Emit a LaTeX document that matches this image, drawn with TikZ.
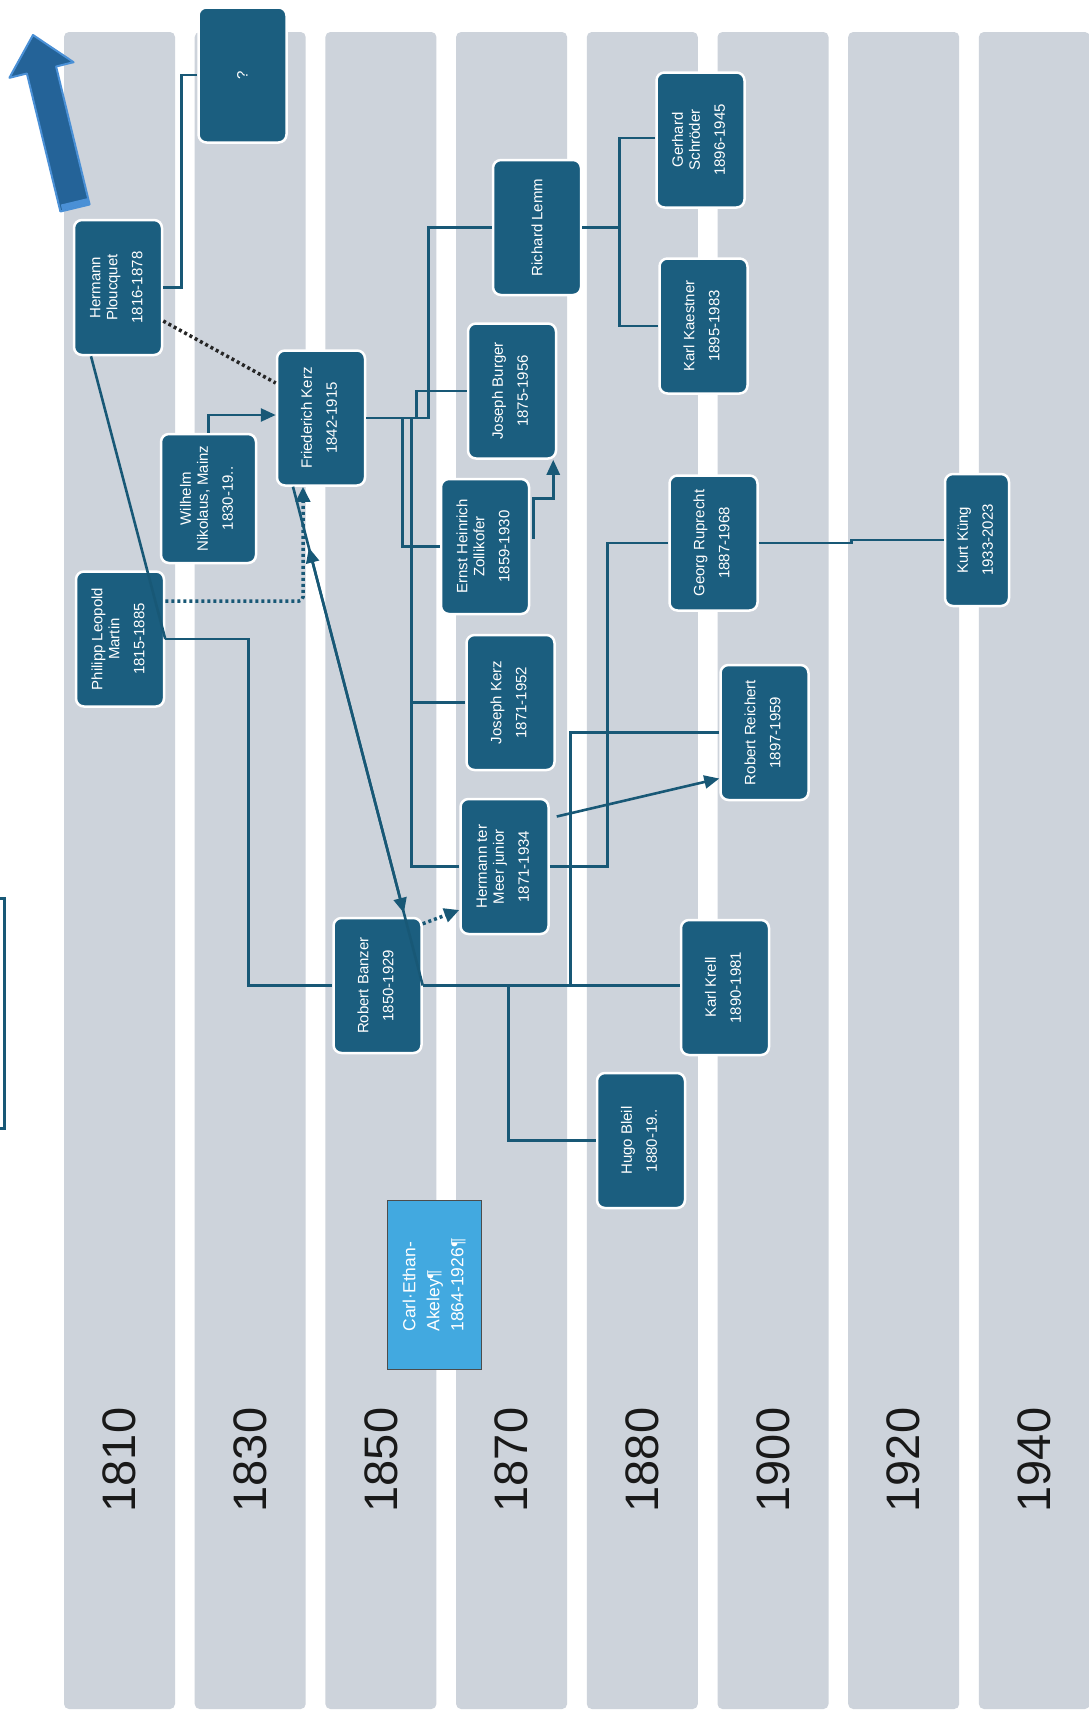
\documentclass[tikz,border=0pt]{standalone}
\usepackage{fontspec}
\setmainfont{Liberation Sans}
\usepackage{graphicx}
\usepackage{tikz}
\usetikzlibrary{arrows.meta,calc}

\definecolor{boxblue}{RGB}{27,94,127}
\definecolor{linkblue}{RGB}{24,88,118}
\definecolor{colgray}{RGB}{205,211,219}
\definecolor{skyblue}{RGB}{66,169,224}
\definecolor{arrowblue}{RGB}{36,99,152}
\definecolor{arrowedge}{RGB}{74,144,214}

\newcommand{\vname}[2]{\rotatebox{90}{\begin{tabular}{@{}c@{}}#1\\[8pt]#2\end{tabular}}}

\begin{document}
\begin{tikzpicture}[x=1pt, y=-1pt, every node/.style={font=\fontsize{15}{17}\selectfont},
  person/.style={rectangle, draw=white, line width=2.5pt, rounded corners=8pt, fill=boxblue,
    text=white, minimum width=88pt, minimum height=135pt, inner sep=2pt},
  note/.style={rectangle, draw=black!70, line width=1pt, fill=skyblue, text=white,
    minimum width=94pt, minimum height=169pt, font=\fontsize{17.5}{24}\selectfont},
  conn/.style={draw=linkblue, line width=2.6pt},
  arr/.style={conn, -{Triangle[length=15pt,width=13pt]}},
  dotline/.style={draw=black!85, line width=3.5pt, dash pattern=on 3pt off 3pt},
  dotarr/.style={draw=linkblue, line width=3.5pt, dash pattern=on 3pt off 3pt,
    -{Triangle[length=15pt,width=14pt]}}]
  \useasboundingbox (0,0) rectangle (1088,1711);
  \fill[white] (0,0) rectangle (1088,1711);

  % decade columns
  \foreach \yr [count=\i from 0] in {1810,1830,1850,1870,1880,1900,1920,1940} {
    \fill[colgray, rounded corners=5pt] ({64+130.7*\i},32) rectangle ++(111,1677);
    \node[font=\fontsize{47}{50}\selectfont, rotate=90, text=black!90] (yr\i) at ({119.5+130.7*\i},1460) {\yr};
  }

  % big arrow and edge mark
  \filldraw[fill=arrowblue, draw=arrowedge, line width=2pt, line join=round]
    (89.6,204.5) -- (56.1,66.5) -- (73.6,62.2) -- (33,35) -- (9.4,77.8) -- (26.9,73.5) -- (60.4,211.5) -- cycle;
  \draw[arrowedge, line width=6pt] (61.5,207.5) -- (88.5,201);
  \draw[linkblue, line width=3pt] (0,898) -- (4,898) -- (4,1128) -- (0,1128);

  \node[person] (q) at (242.5,75) {\rotatebox{90}{?}};
  \node[person] (hp) at (118,287.5) {\vname{Hermann\\Ploucquet}{1816-1878}};
  \node[person, minimum width=95pt, minimum height=129pt] (wn) at (208.5,498.5) {\vname{Wilhelm\\Nikolaus, Mainz}{1830-19..}};
  \node[person] (plm) at (120,639) {\vname{Philipp Leopold\\Martin}{1815-1885}};
  \node[person] (fk) at (321,418) {\vname{Friederich Kerz}{1842-1915}};
  \node[person] (rl) at (537,227.5) {\rotatebox{90}{Richard Lemm}};
  \node[person] (jb) at (512,391) {\vname{Joseph Burger}{1875-1956}};
  \node[person] (ez) at (485,546.5) {\vname{Ernst Heinrich\\Zollikofer}{1859-1930}};
  \node[person] (jk) at (510.5,702.5) {\vname{Joseph Kerz}{1871-1952}};
  \node[person] (htm) at (504.5,866.5) {\vname{Hermann ter\\Meer junior}{1871-1934}};
  \node[person] (gs) at (700.5,140) {\vname{Gerhard\\Schröder}{1896-1945}};
  \node[person] (kae) at (703.5,326) {\vname{Karl Kaestner}{1895-1983}};
  \node[person] (gr) at (713.5,543) {\vname{Georg Ruprecht}{1887-1968}};
  \node[person] (rr) at (764.5,732.5) {\vname{Robert Reichert}{1897-1959}};
  \node[person, minimum width=64pt, minimum height=132pt] (ku) at (977,540) {\vname{Kurt Küng}{1933-2023}};
  \node[person] (rb) at (377.5,985.5) {\vname{Robert Banzer}{1850-1929}};
  \node[person] (kre) at (725,987.5) {\vname{Karl Krell}{1890-1981}};
  \node[person] (hb) at (641,1140.5) {\vname{Hugo Bleil}{1880-19..}};
  \node[note] (cea) at (434.5,1285) {\rotatebox{90}{\begin{tabular}{@{}l@{}}Carl·Ethan-\\Akeley¶\\1864-1926¶\end{tabular}}};

  \draw[conn] (hp.east) -- ++(18,0) |- (q.west);
  \draw[dotline] ([yshift=-33.5pt]hp.east) -- ([yshift=35pt]fk.west);
  \draw[conn] ([xshift=-27pt]hp.south) -- (plm.east);
  \draw[arr] (wn.north) |- ([yshift=3pt]fk.west);
  \draw[conn] (plm.east) -- ++(83,0) |- (rb.west);
  \draw[dotarr, rounded corners=4pt] ([yshift=38pt]plm.east) -| ([xshift=-18pt]fk.south);

  \draw[conn] (fk.east) -- ++(62,0) |- (rl.west);
  \draw[conn] (fk.east) -- ++(50,0) |- (jb.west);
  \draw[conn] (fk.east) -- ++(36,0) |- (ez.west);
  \draw[conn] (fk.east) -- ++(45,0) |- (jk.west);
  \draw[conn] (fk.east) -- ++(45,0) |- (htm.west);
  \draw[arr] ([xshift=3pt,yshift=8pt]ez.east) |- ([xshift=-4pt,yshift=-39pt]jb.south east) -- ([xshift=-4pt]jb.south east);

  \draw[conn] (rl.east) -- ++(37,0) |- ([yshift=2pt]gs.west);
  \draw[conn] (rl.east) -- ++(37,0) |- (kae.west);

  \draw[conn] (htm.east) -- ++(58,0) |- (gr.west);
  \draw[arr] ([xshift=7pt,yshift=50pt]htm.east) -- ([yshift=-46pt]rr.west);
  \draw[conn] (gr.east) -| ([xshift=-92pt]ku.west) -- (ku.west);

  \draw[conn] (rb.east) -- (rb.east -| kre.west);
  \draw[conn] (rb.east) -- ++(86,0) |- (hb.west);
  \draw[conn] (rb.east) -- ++(148,0) |- (rr.west);
  \draw[dotarr] ([yshift=-7pt]rb.north east) -- ([yshift=-43.5pt]htm.west);

  \coordinate (fkb) at ([xshift=-28pt]fk.south);
  \draw[arr, shorten >=75pt] (fkb) -- (rb.east);
  \draw[arr, shorten >=63pt] (rb.east) -- (fkb);
\end{tikzpicture}
\end{document}
